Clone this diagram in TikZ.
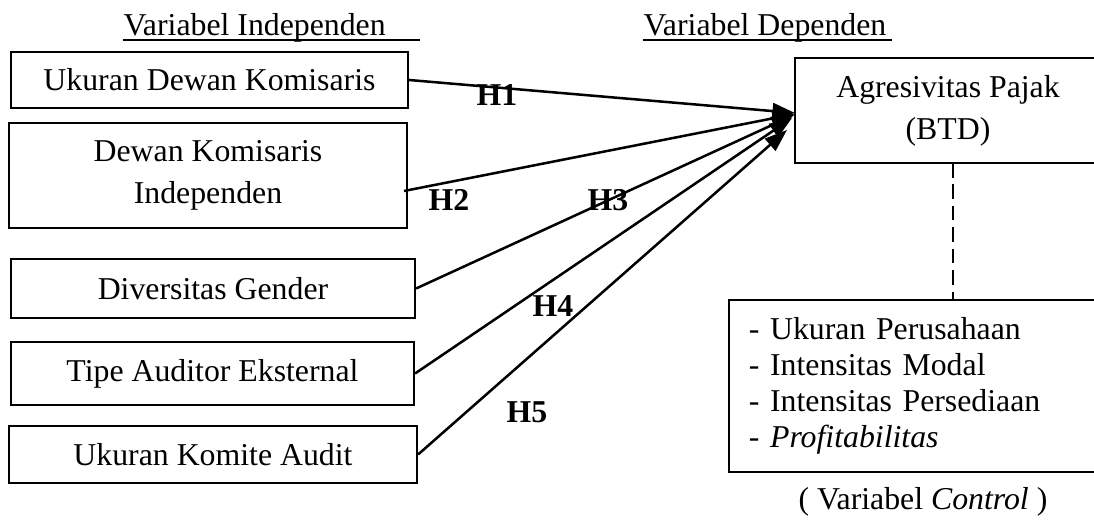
\documentclass[tikz,border=0pt]{standalone}
\usepackage{fontspec}
\setmainfont{Liberation Serif}
\usetikzlibrary{arrows.meta,calc}
\tikzset{
  box/.style={draw, line width=0.8pt, inner sep=0pt, align=center,
    font=\fontsize{12}{15.8}\selectfont},
  conn/.style={line width=0.95pt, -{Triangle[length=8.5pt,width=6pt]}},
  hlabel/.style={font=\fontsize{12}{14}\selectfont\bfseries, inner sep=0pt},
  plain/.style={font=\fontsize{12}{14}\selectfont, inner sep=0pt},
}
\begin{document}
\begin{tikzpicture}[x=0.3774pt,y=-0.3774pt]
\clip (0,0) rectangle (1094,532);
% headers
\node[plain, anchor=base west] (hi) at (123,36) {Variabel Independen};
\node[plain, anchor=base west] (hd) at (643,36) {Variabel Dependen};
\coordinate (ui) at (123,40);
\coordinate (ud) at (643,40);
\draw[line width=0.7pt] (ui) -- ++(297,0);
\draw[line width=0.7pt] (ud) -- ++(249,0);
% independent boxes
\node[box, minimum width=149.8pt, minimum height=21.1pt] (b1) at (209.5,80) {Ukuran Dewan Komisaris};
\node[box, minimum width=150.2pt, minimum height=39.6pt] (b2) at (208,175.5) {Dewan Komisaris\\Independen};
\node[box, minimum width=152.5pt, minimum height=22.3pt] (b3) at (213,288.5) {Diversitas Gender};
\node[box, minimum width=152.1pt, minimum height=23.8pt] (b4) at (212.5,373.5) {Tipe Auditor Eksternal};
\node[box, minimum width=154.0pt, minimum height=21.5pt] (b5) at (213,454.5) {Ukuran Komite Audit};
% dependent box
\node[box, minimum width=115.5pt, minimum height=39.6pt] (agr) at (948,110.5) {Agresivitas Pajak\\(BTD)};
% control box
\node[draw, line width=0.8pt, anchor=north west, inner xsep=7.5pt, inner ysep=0pt,
  text width=131pt, align=left, minimum height=64.9pt,
  font=\fontsize{12}{13.6}\selectfont] (ctrl) at (728,299)
  {- Ukuran Perusahaan\\- Intensitas Modal\\- Intensitas Persediaan\\- \textit{Profitabilitas}};
\node[plain, anchor=base] (ctl) at (923,510) {( Variabel \textit{Control} )};
% connectors
\coordinate (s2) at (404,191);
\coordinate (t1) at (795,113);
\coordinate (t2) at (795,114);
\coordinate (t3) at (794,115);
\coordinate (t4) at (792,118);
\coordinate (t5) at (787,130);
\draw[conn] (b1.east) -- (t1);
\draw[conn] (s2) -- (t2);
\draw[conn] (b3.east) -- (t3);
\draw[conn] (b4.east) -- (t4);
\draw[conn] (b5.east) -- (t5);
% dashed link
\coordinate (d1) at (953,163);
\draw[line width=0.7pt, dash pattern=on 5.5pt off 2.6pt] (d1) -- (d1 |- ctrl.north);
% labels
\node[hlabel] (h1) at (497,95) {H1};
\node[hlabel] (h2) at (449,200) {H2};
\node[hlabel] (h3) at (608,200) {H3};
\node[hlabel] (h4) at (553,306) {H4};
\node[hlabel] (h5) at (527,412) {H5};
\end{tikzpicture}
\end{document}
